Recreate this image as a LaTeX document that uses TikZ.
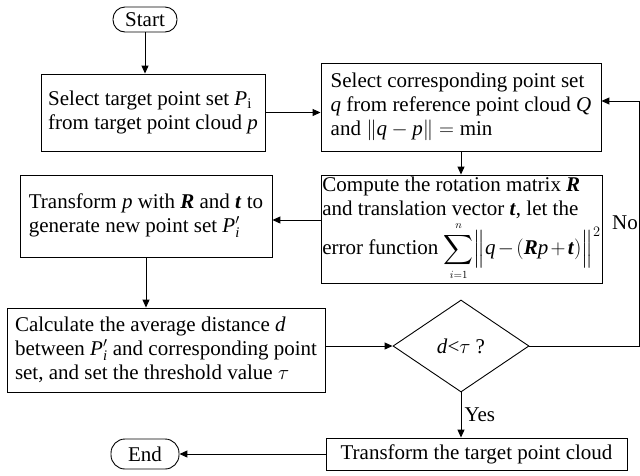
\documentclass[tikz,border=0pt]{standalone}
\usepackage{amsmath}
\usepackage{fontspec}
\setmainfont{Liberation Serif}
\usetikzlibrary{arrows.meta,shapes.geometric}
\begin{document}
\begin{tikzpicture}[x=1pt,y=-1pt,
  every node/.style={font=\fontsize{21}{24}\selectfont},
  box/.style={draw,line width=0.9pt,inner sep=0pt,align=left},
  term/.style={draw,line width=0.9pt,rounded corners=12pt,inner sep=0pt},
  arr/.style={line width=1pt,-{Triangle[length=8pt,width=7pt]}},
  lbl/.style={inner sep=0pt}]
\useasboundingbox (0,0) rectangle (640,475);

\node[term,minimum width=64pt,minimum height=25pt] (start) at (145,19.5) {Start};
\node[box,minimum width=224pt,minimum height=77pt] (b1) at (153,112.5)
  {Select target point set \textit{P}\textsubscript{i}\\from target point cloud \textit{p}};
\node[box,minimum width=280pt,minimum height=88pt] (b2) at (461,107)
  {Select corresponding point set\\\textit{q} from reference point cloud \textit{Q}\\and $\|\textit{q}-\textit{p}\|=\min$};
\node[box,minimum width=281pt,minimum height=108pt] (b3) at (461.5,229)
  {Compute the rotation matrix \textbf{\textit{R}}\\and translation vector \textbf{\textit{t}}, let the\\[2pt]error function $\medmuskip=2mu\displaystyle\sum_{\scriptscriptstyle i=1}^{\scriptscriptstyle n}\Bigl\|\textit{q}-(\textbf{\textit{R}}\textit{p}+\textbf{\textit{t}})\Bigr\|^{2}$};
\node[box,minimum width=252pt,minimum height=82pt] (b4) at (146,216)
  {Transform \textit{p} with \textbf{\textit{R}} and \textbf{\textit{t}} to\\generate new point set $\textit{P}'_{\textit{i}}$};
\node[box,minimum width=318pt,minimum height=84pt] (b5) at (166,350)
  {Calculate the average distance \textit{d}\\between $\textit{P}'_{\textit{i}}$ and corresponding point\\set, and set the threshold value $\tau$};
\node[draw,diamond,line width=0.9pt,inner sep=0pt,minimum width=136pt,minimum height=92pt] (dia) at (461,346)
  {\textit{d}<$\tau$ ?};
\node[box,minimum width=301pt,minimum height=32pt] (b6) at (476.5,454) {Transform the target point cloud};
\node[term,minimum width=68pt,minimum height=30pt,rounded corners=14pt] (stop) at (145,454) {End};

\coordinate (r2) at (639,101);
\coordinate (a34) at (300,220);

\draw[arr] (start.south) -- (start.south |- b1.north);
\draw[arr] (b1.east) -- (b1.east -| b2.west);
\draw[arr] (b2.south) -- (b2.south |- b3.north);
\draw[arr] (b3.west |- a34) -- (a34 -| b4.east);
\draw[arr] (b4.south) -- (b4.south |- b5.north);
\draw[arr] (b5.east |- dia.west) -- (dia.west);
\draw[arr] (dia.east) -- (dia.east -| r2) -- (r2) -- (r2 -| b2.east);
\node[lbl] (no) at (625,223) {No};
\draw[arr] (dia.south) -- (dia.south |- b6.north) node[midway,right,inner sep=3pt] (yes) {Yes};
\draw[arr] (b6.west) -- (b6.west -| stop.east);
\end{tikzpicture}
\end{document}
